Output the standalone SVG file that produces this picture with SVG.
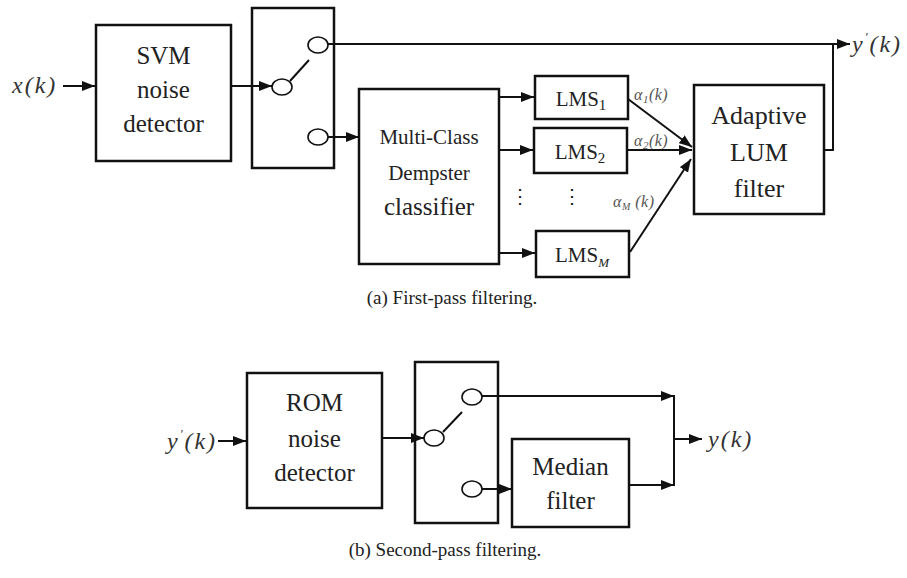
<svg xmlns="http://www.w3.org/2000/svg" width="907" height="578" viewBox="0 0 907 578">
<style>
.box{fill:#fff;stroke:#111;stroke-width:2.5}
.sbox{fill:none;stroke:#111;stroke-width:2.5}
.ln{fill:none;stroke:#111;stroke-width:2}
.arr{fill:none;stroke:#111;stroke-width:2;marker-end:url(#ah)}
.sw{fill:#fff;stroke:#111;stroke-width:1.6}
text{font-family:'Liberation Serif','DejaVu Serif',serif}
.t{fill:#222;text-anchor:middle}
.m{font-style:italic;fill:#333;font-size:24px;letter-spacing:2px}
.a{font-style:italic;fill:#555;font-size:16px;letter-spacing:0.5px}
</style>
<defs>
<marker id="ah" markerUnits="userSpaceOnUse" markerWidth="14" markerHeight="10" refX="13" refY="5" orient="auto">
<path d="M0,0 L13,5 L0,10 z" fill="#111"/>
</marker>
</defs>
<rect width="907" height="578" fill="#fff"/>

<g id="svm">
<rect class="box" x="96" y="25" width="135" height="136"/>
<text class="t" x="163.5" y="64" font-size="25">SVM</text>
<text class="t" x="163.5" y="98" font-size="25">noise</text>
<text class="t" x="163.5" y="132" font-size="25">detector</text>
</g>
<g id="switch1">
<rect class="sbox" x="252" y="8" width="82" height="160"/>
</g>
<g id="classifier">
<rect class="box" x="359" y="89" width="140" height="175"/>
<text class="t" x="429" y="144" font-size="21">Multi-Class</text>
<text class="t" x="429" y="180" font-size="21">Dempster</text>
<text class="t" x="429" y="215" font-size="25">classifier</text>
</g>
<g id="lms1">
<rect class="box" x="535" y="76" width="93" height="43"/>
<text class="t" x="581" y="106" font-size="21">LMS<tspan font-size="15" dy="4">1</tspan></text>
</g>
<g id="lms2">
<rect class="box" x="534" y="128" width="93" height="45"/>
<text class="t" x="580" y="159" font-size="21">LMS<tspan font-size="15" dy="4">2</tspan></text>
</g>
<g id="lmsm">
<rect class="box" x="536" y="231" width="93" height="46"/>
<text class="t" x="582" y="262" font-size="21">LMS<tspan font-size="13" dy="5" font-style="italic">M</tspan></text>
</g>
<g id="dots">
<text class="t" x="520" y="203" font-size="20">⋮</text>
<text class="t" x="572" y="203" font-size="20">⋮</text>
</g>
<g id="lum">
<rect class="box" x="694" y="85" width="130" height="129"/>
<text class="t" x="759" y="124" font-size="26">Adaptive</text>
<text class="t" x="759" y="161" font-size="26">LUM</text>
<text class="t" x="759" y="197" font-size="26">filter</text>
</g>
<g id="labels-a">
<text class="m" x="12" y="93">x(k)</text>
<text class="m" x="852" y="52">y<tspan font-size="13" dy="-11">'</tspan><tspan dy="11">(k)</tspan></text>
<text class="a" x="634" y="100">α<tspan font-size="11" dy="3">1</tspan><tspan dy="-3">(k)</tspan></text>
<text class="a" x="634" y="146">α<tspan font-size="11" dy="3">2</tspan><tspan dy="-3">(k)</tspan></text>
<text class="a" x="613" y="207">α<tspan font-size="10" dy="3">M</tspan><tspan dy="-3"> (k)</tspan></text>
<text class="t" x="452" y="304" font-size="19">(a)  First-pass filtering.</text>
</g>

<g id="rom">
<rect class="box" x="247" y="373" width="135" height="135"/>
<text class="t" x="314.5" y="411" font-size="25">ROM</text>
<text class="t" x="314.5" y="447" font-size="25">noise</text>
<text class="t" x="314.5" y="481" font-size="25">detector</text>
</g>
<g id="switch2">
<rect class="sbox" x="415" y="362" width="83" height="161"/>
</g>
<g id="median">
<rect class="box" x="512" y="439" width="117" height="88"/>
<text class="t" x="570.5" y="475" font-size="25">Median</text>
<text class="t" x="570.5" y="509" font-size="25">filter</text>
</g>
<g id="labels-b">
<text class="m" x="167" y="449">y<tspan font-size="13" dy="-11">'</tspan><tspan dy="11">(k)</tspan></text>
<text class="m" x="708" y="447">y(k)</text>
<text class="t" x="445" y="556" font-size="19">(b)  Second-pass filtering.</text>
</g>

<g id="connectors">
<line class="arr" x1="63" y1="86" x2="95" y2="86"/>
<line class="arr" x1="231" y1="86" x2="272" y2="86"/>
<line class="ln" x1="290" y1="81" x2="309" y2="60"/>
<line class="arr" x1="328" y1="44" x2="850" y2="44"/>
<line class="arr" x1="328" y1="137" x2="359" y2="137"/>
<line class="arr" x1="499" y1="97" x2="534" y2="97"/>
<line class="arr" x1="499" y1="150" x2="533" y2="150"/>
<line class="arr" x1="499" y1="253" x2="535" y2="253"/>
<line class="arr" x1="628" y1="99" x2="692" y2="147"/>
<line class="arr" x1="627" y1="150" x2="692" y2="150"/>
<line class="arr" x1="630" y1="252" x2="691" y2="159"/>
<polyline class="ln" points="824,150 833,150 833,44"/>
<ellipse class="sw" cx="282" cy="87" rx="10" ry="8"/>
<ellipse class="sw" cx="318" cy="45" rx="10" ry="8"/>
<ellipse class="sw" cx="318" cy="137" rx="10" ry="8"/>

<line class="arr" x1="218" y1="441" x2="246" y2="441"/>
<line class="arr" x1="382" y1="438" x2="424" y2="438"/>
<line class="ln" x1="443" y1="432" x2="462" y2="412"/>
<line class="arr" x1="482" y1="396" x2="674" y2="396"/>
<line class="arr" x1="482" y1="489" x2="512" y2="489"/>
<line class="arr" x1="629" y1="485" x2="674" y2="485"/>
<line class="ln" x1="674" y1="395" x2="674" y2="486"/>
<line class="arr" x1="674" y1="439" x2="702" y2="439"/>
<ellipse class="sw" cx="434" cy="438" rx="10" ry="8"/>
<ellipse class="sw" cx="472" cy="397" rx="10" ry="8"/>
<ellipse class="sw" cx="472" cy="489" rx="10" ry="8"/>
</g>
</svg>
